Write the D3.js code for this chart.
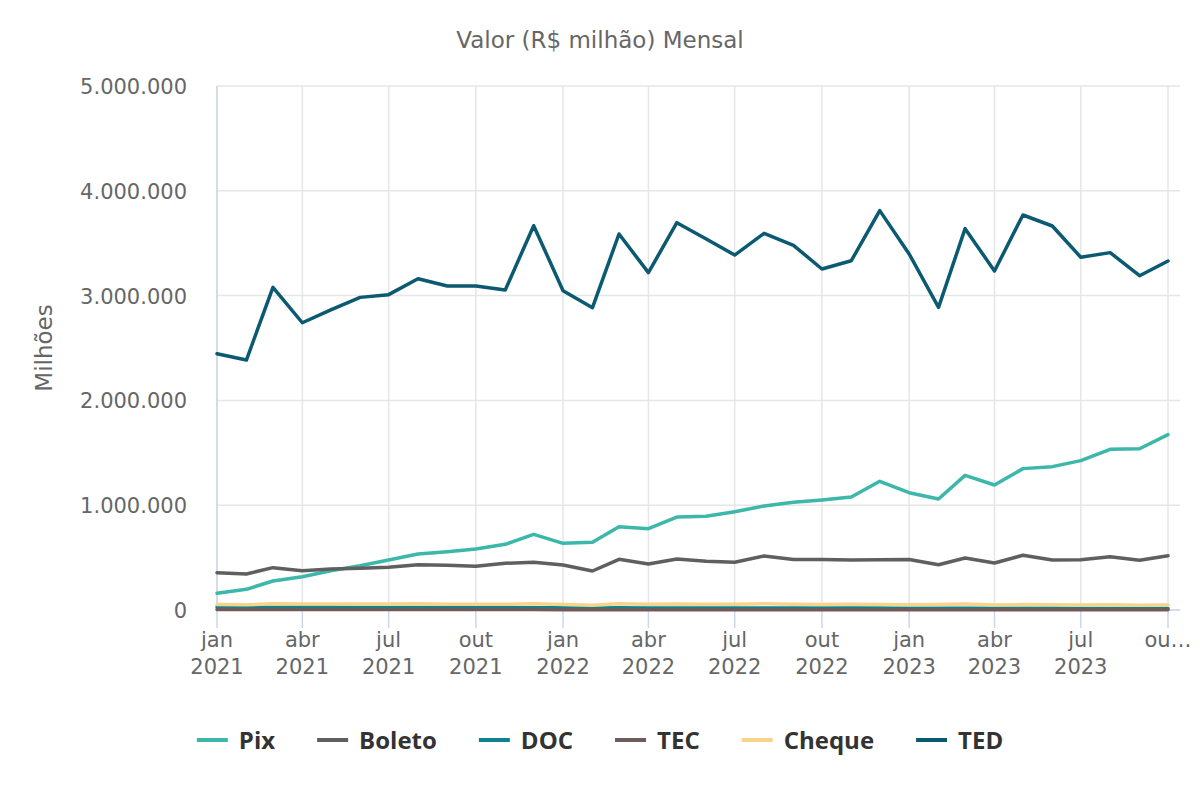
<!DOCTYPE html>
<html>
<head>
<meta charset="utf-8">
<script src="https://cdn.jsdelivr.net/npm/d3@7"></script>
<style>
  html, body { margin: 0; padding: 0; background: #fff; }
  svg { display: block; }
</style>
</head>
<body>
<svg id="chart" width="1200" height="800"></svg>
<script>
const months = ["2021-01","2021-02","2021-03","2021-04","2021-05","2021-06","2021-07","2021-08","2021-09","2021-10","2021-11","2021-12",
  "2022-01","2022-02","2022-03","2022-04","2022-05","2022-06","2022-07","2022-08","2022-09","2022-10","2022-11","2022-12",
  "2023-01","2023-02","2023-03","2023-04","2023-05","2023-06","2023-07","2023-08","2023-09","2023-10"];

const pix = [159000,197000,277000,318000,375000,423000,477000,534000,556000,582000,627000,722000,
  636000,646000,795000,776000,887000,894000,938000,992000,1028000,1050000,1078000,1228000,
  1119000,1059000,1285000,1193000,1349000,1368000,1425000,1533000,1539000,1673000];
const boleto = [356000,344000,404000,375000,391000,398000,407000,432000,426000,417000,446000,455000,
  429000,372000,484000,439000,487000,465000,455000,515000,482000,482000,478000,480000,
  482000,432000,496000,448000,522000,477000,480000,509000,474000,518000];
const doc = [28000,27000,27000,26000,26000,25000,25000,24000,24000,23000,23000,22000,
  21000,20000,21000,20000,20000,19000,19000,19000,18000,18000,18000,18000,
  17000,16000,17000,16000,16000,16000,15000,15000,15000,15000];
const tec = [4000,4000,4000,4000,4000,4000,4000,4000,4000,4000,4000,4000,
  3000,3000,3000,3000,3000,3000,3000,3000,3000,3000,3000,3000,
  3000,3000,3000,3000,3000,3000,3000,3000,3000,3000];
const cheque = [52000,50000,60000,57000,58000,58000,57000,60000,56000,55000,54000,59000,
  52000,46000,60000,54000,58000,55000,54000,59000,55000,52000,54000,53000,
  49000,53000,58000,47000,52000,49000,47000,49000,46000,47000];
const ted = [2445000,2385000,3079000,2741000,2863000,2983000,3009000,3161000,3092000,3092000,3053000,3667000,
  3047000,2885000,3588000,3219000,3696000,3540000,3387000,3594000,3480000,3254000,3333000,3811000,
  3397000,2888000,3639000,3235000,3769000,3664000,3366000,3410000,3190000,3330000];

const seriesNames = ["Pix","Boleto","DOC","TEC","Cheque","TED"];
const seriesColors = ["#3cb7aa","#5f5f5f","#0e8390","#6e5b5c","#f8d38b","#0b5a72"];
const seriesValues = [pix, boleto, doc, tec, cheque, ted];

const yTicks = [0,1000000,2000000,3000000,4000000,5000000];
const xTickMonths = ["2021-01","2021-04","2021-07","2021-10","2022-01","2022-04","2022-07","2022-10","2023-01","2023-04","2023-07","2023-10"];
const xTickLabels = [["jan","2021"],["abr","2021"],["jul","2021"],["out","2021"],["jan","2022"],["abr","2022"],["jul","2022"],["out","2022"],["jan","2023"],["abr","2023"],["jul","2023"],["ou…",""]];

const titleText = "Valor (R$ milhão) Mensal";
const yTitle = "Milhões";

(function () {
const svg = d3.select("#chart");
const pLeft = 217, pRight = 1180, pTop = 86, pBottom = 610;
const parse = d3.timeParse("%Y-%m");
const x = d3.scaleTime().domain([parse("2021-01"), parse("2023-10")]).range([217, 1168]);
const y = d3.scaleLinear().domain([0, 5000000]).range([pBottom, pTop]);

const axisFont = "'DejaVu Sans', sans-serif";
const fmt = v => d3.format(",")(v).replace(/,/g, ".");

// title
svg.append("text").attr("x", 600).attr("y", 48).attr("text-anchor", "middle")
  .attr("font-family", axisFont).attr("font-size", 23).attr("fill", "#666").text(titleText);

// horizontal grid
svg.append("g").selectAll("line").data(yTicks).join("line")
  .attr("x1", pLeft).attr("x2", pRight).attr("y1", d => y(d)).attr("y2", d => y(d))
  .attr("stroke", "#e6e6e6").attr("stroke-width", 1.5);

// vertical grid
svg.append("g").selectAll("line").data(xTickMonths).join("line")
  .attr("x1", d => x(parse(d))).attr("x2", d => x(parse(d)))
  .attr("y1", pTop).attr("y2", pBottom)
  .attr("stroke", "#e6e6e6").attr("stroke-width", 1.5);

// y labels
svg.append("g").selectAll("text").data(yTicks).join("text")
  .attr("x", 187).attr("y", d => y(d) + 8).attr("text-anchor", "end")
  .attr("font-family", axisFont).attr("font-size", 21).attr("fill", "#666")
  .text(d => fmt(d));

// y title
svg.append("text").attr("transform", "translate(52,348) rotate(-90)")
  .attr("text-anchor", "middle").attr("font-family", axisFont).attr("font-size", 23)
  .attr("fill", "#666").text(yTitle);

// axis lines & ticks
svg.append("line").attr("x1", pLeft).attr("x2", pRight).attr("y1", pBottom).attr("y2", pBottom)
  .attr("stroke", "#ccd6eb").attr("stroke-width", 1.5);
svg.append("line").attr("x1", pLeft).attr("x2", pLeft).attr("y1", pTop).attr("y2", pBottom)
  .attr("stroke", "#ccd6eb").attr("stroke-width", 1.5);
svg.append("g").selectAll("line").data(xTickMonths).join("line")
  .attr("x1", d => x(parse(d))).attr("x2", d => x(parse(d)))
  .attr("y1", pBottom).attr("y2", 628)
  .attr("stroke", "#ccd6eb").attr("stroke-width", 1.5);

// x labels
const xl = svg.append("g").selectAll("text").data(xTickMonths).join("text")
  .attr("text-anchor", "middle").attr("font-family", axisFont).attr("font-size", 21).attr("fill", "#666");
xl.append("tspan").attr("x", d => x(parse(d))).attr("y", 647).text((d, i) => xTickLabels[i][0]);
xl.append("tspan").attr("x", d => x(parse(d))).attr("y", 674).text((d, i) => xTickLabels[i][1]);

// lines
const line = d3.line().x((d, i) => x(parse(months[i]))).y(d => y(d));
const order = [0,1,2,3,4,5];
svg.append("g").selectAll("path").data(order).join("path")
  .attr("d", k => line(seriesValues[k]))
  .attr("fill", "none").attr("stroke", k => seriesColors[k]).attr("stroke-width", 3.5)
  .attr("stroke-linejoin", "round").attr("stroke-linecap", "round");

// legend
const lg = svg.append("g");
const legendFont = "'Open Sans', sans-serif";
const items = lg.selectAll("g").data(seriesNames).join("g");
items.append("line").attr("x1", 0).attr("x2", 31).attr("y1", 0).attr("y2", 0)
  .attr("stroke", (d, i) => seriesColors[i]).attr("stroke-width", 4);
items.append("text").attr("x", 42).attr("y", 8.5).attr("font-family", legendFont)
  .attr("font-weight", "bold").attr("font-size", 24).attr("fill", "#333").text(d => d);
let cx = 0;
const pos = [];
const gap = 42;
items.each(function(d, i) {
  const w = 42 + d3.select(this).select("text").node().getComputedTextLength();
  pos.push(cx);
  cx += w + gap;
});
const totalW = cx - gap;
const startX = 600 - totalW / 2;
items.attr("transform", (d, i) => `translate(${startX + pos[i]},740)`);
})();
</script>
</body>
</html>
